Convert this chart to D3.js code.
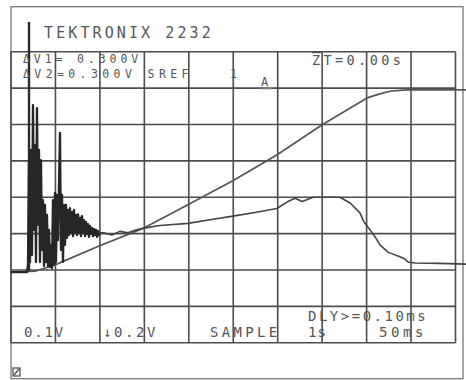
<!DOCTYPE html>
<html><head><meta charset="utf-8">
<script src="https://cdn.jsdelivr.net/npm/d3@7"></script>
<style>html,body{margin:0;padding:0;background:#fff}</style>
</head><body>
<svg id="c" width="466" height="380"></svg>
<script>
// ---- data (screen divisions: x 0..10, y 0..8 from bottom) ----
const xDivisions = 10;
const yDivisions = 8;

// ramp trace (rises and saturates)
const rampTrace = [[0,1.94],[0.56,1.97],[0.99,2.14],[1.98,2.66],[2.99,3.15],[3.98,3.79],[4.99,4.45],[5.98,5.16],[7.00,5.99],[8.01,6.73],[8.30,6.84],[8.55,6.92],[9.00,6.96],[10.24,6.95]];

// noisy trace: flat lead-in, sampled burst, then smooth tail
const noiseLead = [[0,1.94],[0.36,1.94]];
const burstStart = 0.382;
const burstStep = 0.0225;
const burstValues = [2.14,5.02,2.22,5.30,2.41,6.53,3.10,5.44,2.22,6.45,3.24,5.30,2.22,5.02,2.55,3.92,2.11,3.79,2.22,3.51,2.11,3.10,2.08,2.69,2.05,3.92,2.14,4.12,2.22,4.06,2.82,4.34,5.77,2.55,4.06,2.22,3.79,2.69,3.79,2.88,3.65,2.96,3.70,3.04,3.59,2.93,3.65,3.04,3.51,2.96,3.53,3.02,3.43,2.93,3.48,3.04,3.37,2.93,3.32,2.99,3.26,2.91,3.21,2.99,3.15,2.93,3.13,2.96,3.10,2.91,3.07,2.96,3.02];
const noiseTail = [[1.98,3.02],[2.09,3.02],[2.27,2.96],[2.45,3.06],[2.63,3.02],[2.81,3.10],[2.99,3.15],[3.35,3.22],[3.98,3.28],[4.48,3.38],[4.99,3.48],[5.49,3.58],[5.98,3.69],[6.23,3.88],[6.39,3.97],[6.55,3.88],[6.80,4.00],[7.40,4.00],[7.63,3.84],[7.85,3.57],[7.94,3.32],[8.08,3.10],[8.19,2.91],[8.30,2.69],[8.48,2.49],[8.75,2.36],[8.86,2.30],[8.93,2.22],[9.09,2.19],[9.64,2.18],[10.24,2.16]];

// cursor
const cursorX = 0.405;
const cursorSpan = [1.95, 8.82];

// readout texts
const headerLabel = "TEKTRONIX 2232";
const deltaV1 = "ΔV1= 0.300V";
const deltaV2 = "ΔV2=0.300V SREF";
const srefNum = "1";
const srefCh = "A";
const deltaT = "ZT=0.00s";
const ch1Scale = "0.1V";
const ch2Scale = "↓0.2V";
const acqMode = "SAMPLE";
const delayLabel = "DLY>=0.10ms";
const timeA = "1s";
const timeB = "50ms";

// ---- drawing ----
const svg = d3.select("#c");
const x = d3.scaleLinear().domain([0, xDivisions]).range([11, 455.5]);
const y = d3.scaleLinear().domain([0, yDivisions]).range([342.7, 51.7]);

// outer frame
svg.append("rect").attr("x",11).attr("y",6.7).attr("width",452).attr("height",372)
  .attr("fill","none").attr("stroke","#777").attr("stroke-width",1.3);

// graticule
const g = svg.append("g").attr("stroke","#4d4d4d").attr("stroke-width",1.6);
g.selectAll("line.v").data(d3.range(0, xDivisions+1)).join("line")
  .attr("x1",d=>x(d)).attr("x2",d=>x(d)).attr("y1",y(yDivisions)).attr("y2",y(0));
g.selectAll("line.h").data(d3.range(0, yDivisions+1)).join("line")
  .attr("x1",x(0)).attr("x2",x(xDivisions)).attr("y1",d=>y(d)).attr("y2",d=>y(d));

const line = d3.line().x(d=>x(d[0])).y(d=>y(d[1]));

// cursor
svg.append("line").attr("x1",x(cursorX)).attr("x2",x(cursorX))
  .attr("y1",y(cursorSpan[1])).attr("y2",y(cursorSpan[0]))
  .attr("stroke","#2a2a2a").attr("stroke-width",2.4);

// ramp trace
svg.append("path").attr("d",line(rampTrace)).attr("fill","none")
  .attr("stroke","#555").attr("stroke-width",1.7).attr("stroke-linejoin","round");

// noisy trace: burst part drawn heavier (dense phosphor), tail normal
const burst = burstValues.map((v,i)=>[burstStart + i*burstStep, v]);
svg.append("path").attr("d",line(noiseLead.concat(burst))).attr("fill","none")
  .attr("stroke","#262626").attr("stroke-width",2.3).attr("stroke-linejoin","round");
svg.append("path").attr("d",line(noiseTail)).attr("fill","none")
  .attr("stroke","#444").attr("stroke-width",1.6).attr("stroke-linejoin","round");

// texts
const font = "'DejaVu Sans Mono', monospace";
function txt(s, tx, ty, fs, ls){
  return svg.append("text").attr("x",tx).attr("y",ty).text(s)
    .attr("font-family",font).attr("font-size",fs).attr("letter-spacing",ls)
    .attr("fill","#555");
}
txt(headerLabel, 44, 38, 15, 3.1);
txt(deltaV1, 23, 63, 11.5, 3.9);
txt(deltaV2, 23, 77.5, 11.5, 4.4);
txt(srefNum, 230, 77.5, 11.5, 0);
txt(srefCh, 261, 86, 12, 0);
svg.append("line").attr("x1",260).attr("x2",272).attr("y1",88.5).attr("y2",88.5)
  .attr("stroke","#777").attr("stroke-width",1.5);
txt(deltaT, 312, 65, 13.5, 3.4);
svg.append("line").attr("x1",312).attr("x2",321).attr("y1",52.5).attr("y2",52.5)
  .attr("stroke","#555").attr("stroke-width",1.3);
txt(ch1Scale, 24, 337, 14, 1.8);
txt(ch2Scale, 103, 337, 14, 2.6);
txt(acqMode, 210, 337, 14, 3.3);
txt(delayLabel, 308, 321, 14, 2.5);
txt(timeA, 308, 337, 14, 1);
txt(timeB, 379, 337, 14, 3.6);

// small corner icon
svg.append("rect").attr("x",13).attr("y",368).attr("width",7).attr("height",8)
  .attr("fill","none").attr("stroke","#444").attr("stroke-width",1.2);
svg.append("line").attr("x1",14).attr("y1",375).attr("x2",19).attr("y2",369)
  .attr("stroke","#444").attr("stroke-width",1.2);
</script>
</body></html>
